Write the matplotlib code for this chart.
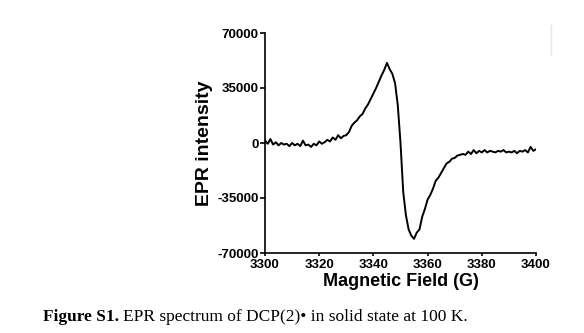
import numpy as np
import matplotlib
matplotlib.use("Agg")
import matplotlib.pyplot as plt
from matplotlib.lines import Line2D

# Data (field in G, intensity in thousands)
field = np.arange(3300, 3401, 1)
intensity_k = [
    1.5, -0.5, 2.5, -1.0, 0.5, -1.5, 0.0, -1.0, -0.5, -2.0,
    0.0, -1.5, -0.5, -2.0, 1.5, -1.5, -1.0, -2.5, -0.5, -1.5,
    1.0, -0.5, 0.5, 2.0, 1.0, 3.5, 2.0, 5.0, 3.0, 4.5,
    5.0, 7.0, 11.0, 13.0, 14.5, 17.0, 18.5, 22.0, 24.5, 28.0,
    31.5, 35.0, 39.0, 43.0, 46.5, 51.0, 47.0, 44.0, 38.0, 24.0,
    0.0, -31.0, -46.0, -55.0, -59.0, -61.0, -57.0, -55.0, -47.0, -42.0,
    -36.0, -33.0, -29.0, -24.0, -22.0, -19.0, -16.0, -13.0, -12.0, -10.0,
    -9.5, -8.0, -7.5, -7.0, -7.5, -5.5, -7.0, -4.5, -6.5, -5.0,
    -6.0, -4.5, -6.0, -5.0, -5.5, -6.0, -5.0, -5.5, -4.5, -6.0,
    -5.5, -6.0, -5.0, -6.5, -5.0, -5.5, -4.5, -6.0, -2.5, -5.0,
    -4.0,
]
intensity = np.array(intensity_k) * 1000

x_ticks = [3300, 3320, 3340, 3360, 3380, 3400]
y_ticks = [-70000, -35000, 0, 35000, 70000]

plt.rcParams['font.family'] = ['Liberation Sans', 'DejaVu Sans']
plt.rcParams['axes.unicode_minus'] = False

fig = plt.figure(figsize=(5.84, 3.33), dpi=100)
ax = fig.add_axes([265 / 584, 1 - 253 / 333, 271 / 584, 220 / 333])

ax.plot(field, intensity, color='black', lw=1.4)

ax.set_xlim(3300, 3400)
ax.set_ylim(-70000, 70000)
ax.set_xticks(x_ticks)
ax.set_yticks(y_ticks)
ax.set_xticklabels([str(t) for t in x_ticks], fontweight='bold', fontsize=9.5)
ax.set_yticklabels([str(t) for t in y_ticks], fontweight='bold', fontsize=9.5)
ax.tick_params(axis='x', direction='out', length=2.5, width=1.2, pad=2)
ax.tick_params(axis='y', direction='out', length=3.5, width=1.2, pad=1)

for side in ['top', 'right']:
    ax.spines[side].set_visible(False)
for side in ['left', 'bottom']:
    ax.spines[side].set_linewidth(1.2)

ax.set_xlabel('Magnetic Field (G)', fontweight='bold', fontsize=13, labelpad=1)
ax.set_ylabel('EPR intensity', fontweight='bold', fontsize=14, labelpad=3)

# faint grey mark at the top right of the page
fig.add_artist(Line2D([551 / 584, 551 / 584], [1 - 25 / 333, 1 - 55 / 333],
                      color='#e6e6e6', lw=1))

# caption: bold label followed by regular text
fig.canvas.draw()
renderer = fig.canvas.get_renderer()
t1 = fig.text(43 / 584, 1 - 317 / 333, 'Figure S1.', family='Liberation Serif',
              fontweight='bold', fontsize=12.5, va='center')
bb = t1.get_window_extent(renderer)
fig.text((bb.x1 + 4) / fig.bbox.width, 1 - 317 / 333,
         'EPR spectrum of DCP(2)\u2022 in solid state at 100 K.',
         family='Liberation Serif', fontsize=12.5, va='center')

fig.savefig('out.png', dpi=100)
